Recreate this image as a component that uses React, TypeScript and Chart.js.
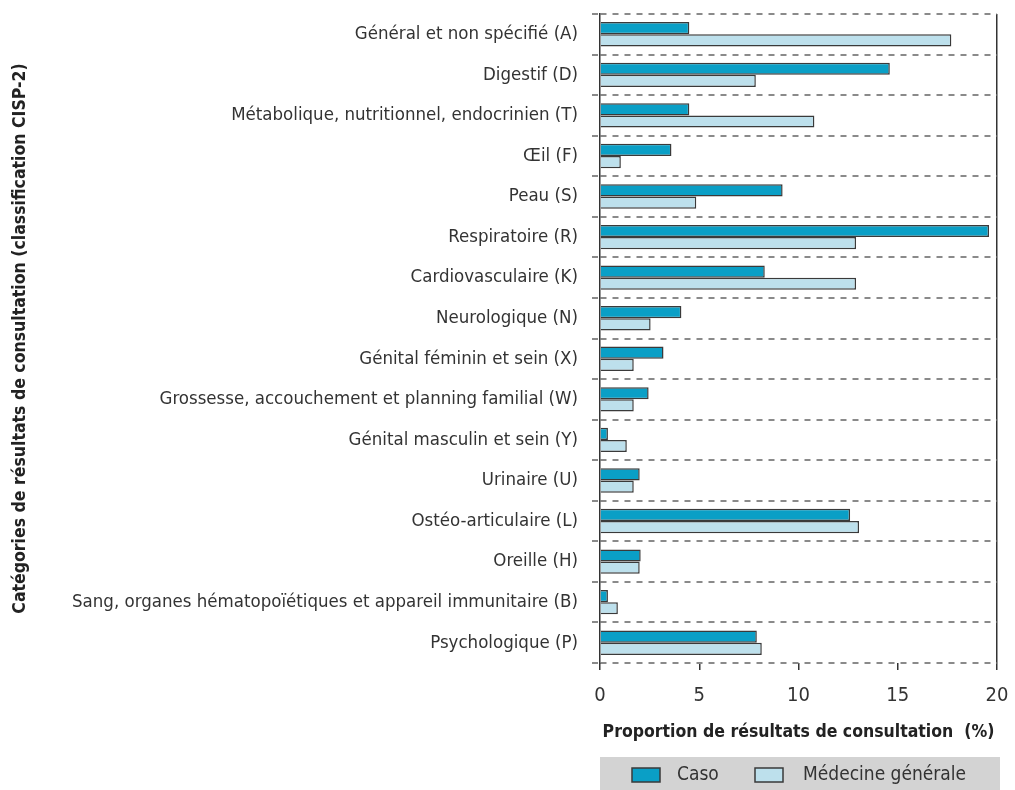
import React, { useEffect, useRef } from "react";
import { Chart, registerables } from "chart.js";

Chart.register(...registerables);

const categories = [
  "Général et non spécifié (A)",
  "Digestif (D)",
  "Métabolique, nutritionnel, endocrinien (T)",
  "Œil (F)",
  "Peau (S)",
  "Respiratoire (R)",
  "Cardiovasculaire (K)",
  "Neurologique (N)",
  "Génital féminin et sein (X)",
  "Grossesse, accouchement et planning familial (W)",
  "Génital masculin et sein (Y)",
  "Urinaire (U)",
  "Ostéo-articulaire (L)",
  "Oreille (H)",
  "Sang, organes hématopoïétiques et appareil immunitaire (B)",
  "Psychologique (P)",
];

const casoValues = [4.5, 14.6, 4.5, 3.6, 9.2, 19.6, 8.3, 4.1, 3.2, 2.45, 0.4, 2.0, 12.6, 2.05, 0.4, 7.9];
const mgValues = [17.7, 7.85, 10.8, 1.05, 4.85, 12.9, 12.9, 2.55, 1.7, 1.7, 1.35, 1.7, 13.05, 2.0, 0.9, 8.15];

const seriesLabels = ["Caso", "Médecine générale"];
const xTicks = [0, 5, 10, 15, 20];

const FONT = "'Liberation Sans Narrow', 'DejaVu Sans Condensed', 'Liberation Sans', sans-serif";
const COLORS = ["#0a9fc6", "#bde0ec"];
const BORDER = "#3a3a3a";

const legendPlugin = {
  id: "customLegend",
  afterDraw(chart: any) {
    const ctx = chart.ctx;
    const xs = chart.scales.x;
    const left = xs.left;
    const right = xs.right + 3;
    const top = 757;
    const h = 36;
    ctx.save();
    ctx.fillStyle = "#d3d3d3";
    ctx.fillRect(left, top, right - left, h);
    ctx.font = "19px " + FONT;
    ctx.textBaseline = "middle";
    const items = [
      { x: left + 32, tx: left + 77 },
      { x: left + 155, tx: left + 203 },
    ];
    chart.data.datasets.forEach((ds: any, i: number) => {
      const it = items[i];
      ctx.fillStyle = ds.backgroundColor;
      ctx.strokeStyle = BORDER;
      ctx.lineWidth = 1.5;
      ctx.fillRect(it.x, top + 11, 28, 14);
      ctx.strokeRect(it.x, top + 11, 28, 14);
      ctx.fillStyle = "#333";
      ctx.fillText(ds.label, it.tx, top + 18);
    });
    ctx.restore();
  },
};

export default function App() {
  const ref = useRef<HTMLCanvasElement>(null);
  useEffect(() => {
    document.body.style.margin = "0";
    const chart = new Chart(ref.current!, {
      type: "bar",
      data: {
        labels: categories,
        datasets: [
          {
            label: seriesLabels[0],
            data: casoValues,
            backgroundColor: COLORS[0],
            borderColor: BORDER,
            borderWidth: 1.5,
          },
          {
            label: seriesLabels[1],
            data: mgValues,
            backgroundColor: COLORS[1],
            borderColor: BORDER,
            borderWidth: 1.5,
          },
        ],
      },
      options: {
        indexAxis: "y",
        animation: false,
        responsive: false,
        layout: { padding: { top: 14, right: 18, bottom: 47, left: 0 } },
        datasets: { bar: { categoryPercentage: 0.6, barPercentage: 1.0 } },
        plugins: {
          legend: { display: false },
          tooltip: { enabled: false },
        },
        scales: {
          x: {
            min: 0,
            max: 20,
            afterBuildTicks: (scale: any) => {
              scale.ticks = xTicks.map((v) => ({ value: v }));
            },
            afterFit: (scale: any) => {
              scale.paddingLeft = 0;
              scale.paddingRight = 0;
            },
            grid: {
              color: (c: any) => (c.tick && c.tick.value === 20 ? "#333" : "transparent"),
              tickColor: "#333",
              tickLength: 7,
              lineWidth: 1.5,
            },
            border: { display: false },
            ticks: {
              color: "#333",
              font: { family: FONT, size: 20 },
              padding: 14,
            },
            title: {
              display: true,
              text: "Proportion de résultats de consultation  (%)",
              color: "#222",
              font: { family: FONT, size: 17.5, weight: "bold" },
              align: "center",
              padding: { top: 0, bottom: 0 },
            },
          },
          y: {
            afterFit: (scale: any) => {
              scale.width = 600;
              scale.paddingTop = 0;
              scale.paddingBottom = 0;
            },
            grid: {
              color: "#8a8a8a",
              lineWidth: 2,
              tickLength: 8,
              offset: true,
              tickBorderDash: [6, 6],
            },
            border: { display: true, color: "#333", width: 1.5, dash: [6, 6] },
            ticks: {
              color: "#333",
              font: { family: FONT, size: 18.5 },
              padding: 14,
              autoSkip: false,
            },
            title: {
              display: true,
              text: "Catégories de résultats de consultation (classification CISP-2)",
              color: "#222",
              font: { family: FONT, size: 17.5, weight: "bold" },
              padding: { top: 10, bottom: 0 },
            },
          },
        },
      } as any,
      plugins: [legendPlugin],
    });
    return () => chart.destroy();
  }, []);
  return <canvas ref={ref} width={1015} height={790} style={{ display: "block" }} />;
}
